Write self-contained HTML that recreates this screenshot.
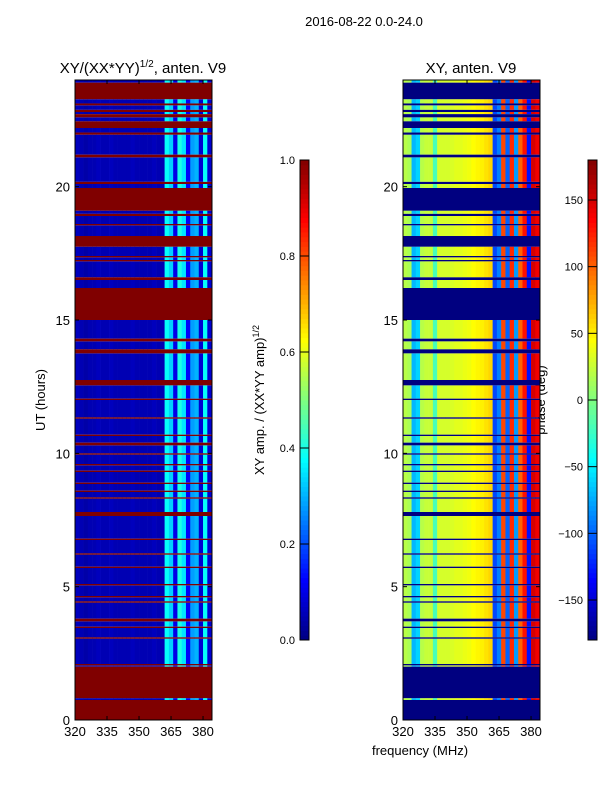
<!DOCTYPE html>
<html><head><meta charset="utf-8"><style>
body{margin:0;background:#fff}
svg{display:block;font-family:"Liberation Sans","DejaVu Sans",sans-serif}
</style></head><body>
<svg id="c" width="600" height="800">
<text x="364" y="26" font-size="13" text-anchor="middle">2016-08-22 0.0-24.0</text>
<text x="143" y="73" font-size="15" text-anchor="middle">XY/(XX*YY)<tspan dy="-6" font-size="10">1/2</tspan><tspan dy="6">, anten. V9</tspan></text>
<text x="471" y="73" font-size="15" text-anchor="middle">XY, anten. V9</text>
<text transform="translate(45,400) rotate(-90)" font-size="13" text-anchor="middle">UT (hours)</text>
<text transform="translate(264,400) rotate(-90)" font-size="13" text-anchor="middle">XY amp. / (XX*YY amp)<tspan dy="-5" font-size="9">1/2</tspan></text>
<text transform="translate(545,400) rotate(-90)" font-size="13" text-anchor="middle">phase (deg)</text>
<text x="420" y="755" font-size="13" text-anchor="middle">frequency (MHz)</text>
</svg>
<script>
const flagStart=[23.28,23.05,22.8,22.6,22.2,21.95,21.1,20.1,19.1,18.9,18.55,17.75,17.35,17.2,16.5,15.0,14.2,13.75,12.55,12.0,11.3,10.65,10.3,9.95,9.55,9.3,8.85,8.55,8.3,7.65,6.75,6.2,5.7,5.05,4.6,4.4,3.7,3.45,3.05,2.05,0.0,0.82];
const flagEnd=[23.9,23.12,22.88,22.72,22.45,22.03,21.2,20.18,19.95,18.98,18.6,18.15,17.4,17.25,16.6,16.2,14.3,13.9,12.75,12.05,11.35,10.7,10.4,10.0,9.6,9.35,8.9,8.6,8.35,7.8,6.8,6.25,5.75,5.1,4.65,4.45,3.8,3.5,3.1,2.1,0.75,2.0];
const freqs=[320,322,324,326,328,330,332,334,336,338,340,342,344,346,348,350,352,354,356,358,360,362,364,366,368,370,372,374,376,378,380,382];
const ampVals=[0.06,0.05,0.04,0.05,0.05,0.06,0.05,0.05,0.06,0.05,0.05,0.05,0.05,0.06,0.05,0.05,0.05,0.05,0.06,0.05,0.05,0.38,0.33,0.1,0.4,0.35,0.12,0.28,0.3,0.08,0.38,0.08];
const phaseVals=[20,15,-70,-60,20,25,25,-20,30,30,30,32,35,35,38,40,45,48,50,55,60,-110,-90,110,-100,120,-80,100,130,-130,150,140];
const yTicks=[0,5,10,15,20];
const xTicks=[320,335,350,365,380];
const ampTicks=[0.0,0.2,0.4,0.6,0.8,1.0];
const phaseTicks=[-150,-100,-50,0,50,100,150];
const NS="http://www.w3.org/2000/svg",svg=document.getElementById('c');
function jet(v){const f=t=>Math.max(0,Math.min(1,t));const r=f(1.5-Math.abs(4*v-3)),g=f(1.5-Math.abs(4*v-2)),b=f(1.5-Math.abs(4*v-1));return `rgb(${Math.round(r*255)},${Math.round(g*255)},${Math.round(b*255)})`;}
function el(t,a){const e=document.createElementNS(NS,t);for(const k in a)e.setAttribute(k,a[k]);svg.appendChild(e);return e;}
const yTop=80,yBot=720,yS=h=>yBot-(h/24)*(yBot-yTop);
function panel(x0,vals,norm,flagVal,name){
  const xS=f=>x0+(f-320)*(137/64.2);
  const g=document.createElementNS(NS,'g');svg.appendChild(g);
  
  
  const iv=flagStart.map((s,i)=>[s,flagEnd[i]]).sort((a,b)=>a[0]-b[0]);
  let segs=[],t=0;iv.forEach(([s,e])=>{if(s>t)segs.push([t,s]);t=Math.max(t,e);});if(t<24)segs.push([t,24]);
  freqs.forEach((f,i)=>{segs.forEach(([a,b])=>{const r=document.createElementNS(NS,'rect');
    r.setAttribute('x',xS(f));r.setAttribute('width',xS(f+2)-xS(f)+0.3);r.setAttribute('y',yS(b));r.setAttribute('height',yS(a)-yS(b));r.setAttribute('fill',jet(norm(vals[i])));
    
    
    g.appendChild(r);});});
  iv.forEach(([a,b])=>{const r=document.createElementNS(NS,'rect');
    r.setAttribute('x',x0);r.setAttribute('width',137);r.setAttribute('y',yS(b));r.setAttribute('height',yS(a)-yS(b));r.setAttribute('fill',jet(norm(flagVal)));
    
    
    g.appendChild(r);});
  const fr=el('rect',{x:x0,y:yTop,width:137,height:yBot-yTop,fill:'none',stroke:'#000'});
  
  
  yTicks.forEach(v=>{const y=yS(v);el('line',{x1:x0,x2:x0+4,y1:y,y2:y,stroke:'#000'});el('line',{x1:x0+133,x2:x0+137,y1:y,y2:y,stroke:'#000'});
    const tx=el('text',{x:x0-5,y:y+5,'font-size':13,'text-anchor':'end'});tx.textContent=v;
    
    });
  xTicks.forEach(v=>{const x=xS(v);el('line',{x1:x,x2:x,y1:yBot,y2:yBot-4,stroke:'#000'});el('line',{x1:x,x2:x,y1:yTop,y2:yTop+4,stroke:'#000'});
    const tx=el('text',{x:x,y:yBot+16,'font-size':13,'text-anchor':'middle'});tx.textContent=v;
    
    });
}
panel(75,ampVals,v=>v,1.0,'amp');
panel(403,phaseVals,v=>(v+180)/360,-180,'phase');
function cbar(x0,ticks,lo,hi,name,fmt){
  const n=100,h=480;
  for(let i=0;i<n;i++){const r=el('rect',{x:x0,y:160+h-(i+1)*h/n,width:9,height:h/n+0.5,fill:jet((i+0.5)/n)});
    
    }
  const fr=el('rect',{x:x0,y:160,width:9,height:h,fill:'none',stroke:'#000'});
  
  
  ticks.forEach(v=>{const y=640-(v-lo)/(hi-lo)*h;el('line',{x1:x0,x2:x0+9,y1:y,y2:y,stroke:'#000'});
    const tx=el('text',{x:x0-5,y:y+4,'font-size':11,'text-anchor':'end'});tx.textContent=fmt(v);
    
    });
}
cbar(300,ampTicks,0,1,'amp',v=>v.toFixed(1));
cbar(588,phaseTicks,-180,180,'phase',v=>v<0?'\u2212'+(-v):''+v);
</script>
</body></html>
